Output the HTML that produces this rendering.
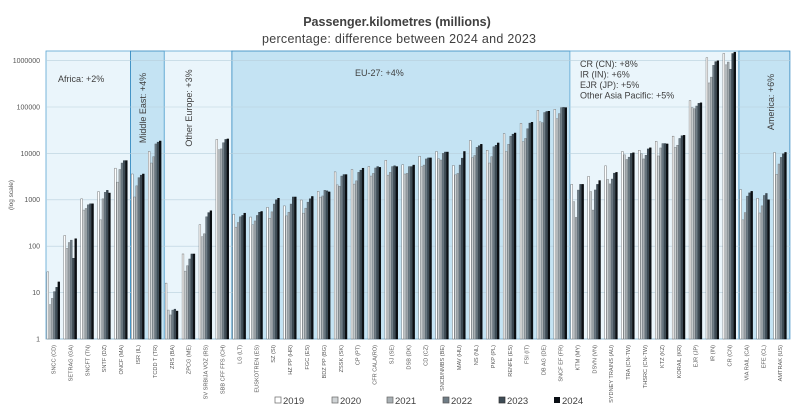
<!DOCTYPE html>
<html><head><meta charset="utf-8"><style>
body{margin:0;background:#fff;}
svg{display:block;font-family:"Liberation Sans",sans-serif;}
</style></head><body>
<svg id="s" width="800" height="409" viewBox="0 0 800 409" xmlns="http://www.w3.org/2000/svg">
<text x="397" y="26" text-anchor="middle" font-size="12.5" font-weight="bold" fill="#404040" font-family="Liberation Sans, sans-serif">Passenger.kilometres (millions)</text>
<text x="399" y="43" text-anchor="middle" font-size="12.5" fill="#404040" textLength="274">percentage: difference between 2024 and 2023</text>
<g id="reg">
<rect x="46" y="51" width="84.5" height="288" fill="#eaf5fb" stroke="#5aa5d3" stroke-width="0.8"/>
<rect x="130.5" y="51" width="33.8" height="288" fill="#c4e3f3" stroke="#2f86be" stroke-width="0.8"/>
<rect x="164.3" y="51" width="67.6" height="288" fill="#eaf5fb" stroke="#5aa5d3" stroke-width="0.8"/>
<rect x="231.9" y="51" width="338" height="288" fill="#c4e3f3" stroke="#2f86be" stroke-width="0.8"/>
<rect x="569.9" y="51" width="169" height="288" fill="#eaf5fb" stroke="#5aa5d3" stroke-width="0.8"/>
<rect x="738.9" y="51" width="51" height="288" fill="#c4e3f3" stroke="#2f86be" stroke-width="0.8"/>
</g>
<g id="grid" stroke="#b8cfdc" stroke-width="0.6"></g>
<g id="bars"></g>
<g font-size="7" fill="#555" text-anchor="end">
<text x="40" y="63">1000000</text><text x="40" y="109.4">100000</text><text x="40" y="155.8">10000</text><text x="40" y="202.2">1000</text><text x="40" y="248.6">100</text><text x="40" y="295">10</text><text x="40" y="341.4">1</text>
</g>
<text transform="translate(13,195) rotate(-90)" font-size="6.5" fill="#555" text-anchor="middle">(log scale)</text>
<g font-size="9" fill="#404040">
<text x="58" y="82">Africa: +2%</text>
<text transform="translate(146,108) rotate(-90)" text-anchor="middle">Middle East: +4%</text>
<text transform="translate(192,108) rotate(-90)" text-anchor="middle">Other Europe: +3%</text>
<text x="355" y="76">EU-27: +4%</text>
<text x="580" y="67">CR (CN): +8%</text>
<text x="580" y="77.5">IR (IN): +6%</text>
<text x="580" y="88">EJR (JP): +5%</text>
<text x="580" y="98.5">Other Asia Pacific: +5%</text>
<text transform="translate(774,102) rotate(-90)" text-anchor="middle">America: +6%</text>
</g>
<g font-size="5.6" fill="#555" text-anchor="end">
<text transform="translate(55.5,345) rotate(-90)">SNCC (CD)</text>
<text transform="translate(72.4,345) rotate(-90)">SETRAG (GA)</text>
<text transform="translate(89.3,345) rotate(-90)">SNCFT (TN)</text>
<text transform="translate(106.2,345) rotate(-90)">SNTF (DZ)</text>
<text transform="translate(123.1,345) rotate(-90)">ONCF (MA)</text>
<text transform="translate(140,345) rotate(-90)">ISR (IL)</text>
<text transform="translate(156.9,345) rotate(-90)">TCDD T (TR)</text>
<text transform="translate(173.8,345) rotate(-90)">ZRS (BA)</text>
<text transform="translate(190.7,345) rotate(-90)">ZPCG (ME)</text>
<text transform="translate(207.6,345) rotate(-90)">SV SRBIJA VOZ (RS)</text>
<text transform="translate(224.5,345) rotate(-90)">SBB CFF FFS (CH)</text>
<text transform="translate(241.4,345) rotate(-90)">LG (LT)</text>
<text transform="translate(258.3,345) rotate(-90)">EUSKOTREN (ES)</text>
<text transform="translate(275.2,345) rotate(-90)">SZ (SI)</text>
<text transform="translate(292.1,345) rotate(-90)">HZ PP (HR)</text>
<text transform="translate(309,345) rotate(-90)">FGC (ES)</text>
<text transform="translate(325.9,345) rotate(-90)">BDZ PP (BG)</text>
<text transform="translate(342.8,345) rotate(-90)">ZSSK (SK)</text>
<text transform="translate(359.7,345) rotate(-90)">CP (PT)</text>
<text transform="translate(376.6,345) rotate(-90)">CFR CALA(RO)</text>
<text transform="translate(393.5,345) rotate(-90)">SJ (SE)</text>
<text transform="translate(410.4,345) rotate(-90)">DSB (DK)</text>
<text transform="translate(427.3,345) rotate(-90)">CD (CZ)</text>
<text transform="translate(444.2,345) rotate(-90)">SNCB/NMBS (BE)</text>
<text transform="translate(461.1,345) rotate(-90)">MAV (HU)</text>
<text transform="translate(478,345) rotate(-90)">NS (NL)</text>
<text transform="translate(494.9,345) rotate(-90)">PKP (PL)</text>
<text transform="translate(511.8,345) rotate(-90)">RENFE (ES)</text>
<text transform="translate(528.7,345) rotate(-90)">FSI (IT)</text>
<text transform="translate(545.6,345) rotate(-90)">DB AG (DE)</text>
<text transform="translate(562.5,345) rotate(-90)">SNCF EF (FR)</text>
<text transform="translate(579.4,345) rotate(-90)">KTM (MY)</text>
<text transform="translate(596.3,345) rotate(-90)">DSVN (VN)</text>
<text transform="translate(613.2,345) rotate(-90)">SYDNEY TRAINS (AU)</text>
<text transform="translate(630.1,345) rotate(-90)">TRA (CN-TW)</text>
<text transform="translate(647,345) rotate(-90)">THSRC (CN-TW)</text>
<text transform="translate(663.9,345) rotate(-90)">KTZ (KZ)</text>
<text transform="translate(680.8,345) rotate(-90)">KORAIL (KR)</text>
<text transform="translate(697.7,345) rotate(-90)">EJR (JP)</text>
<text transform="translate(714.6,345) rotate(-90)">IR (IN)</text>
<text transform="translate(731.5,345) rotate(-90)">CR (CN)</text>
<text transform="translate(748.4,345) rotate(-90)">VIA RAIL (CA)</text>
<text transform="translate(765.3,345) rotate(-90)">EFE (CL)</text>
<text transform="translate(782.2,345) rotate(-90)">AMTRAK (US)</text>
</g>
<g font-size="9.5" fill="#404040">
<rect x="275" y="397" width="6" height="6" fill="#fff" stroke="#666" stroke-width="0.7"/><text x="283" y="404">2019</text>
<rect x="332" y="397" width="6" height="6" fill="#d0d4d6" stroke="#666" stroke-width="0.7"/><text x="340" y="404">2020</text>
<rect x="387" y="397" width="6" height="6" fill="#a9b0b4" stroke="#666" stroke-width="0.7"/><text x="395" y="404">2021</text>
<rect x="443" y="397" width="6" height="6" fill="#6f7d86" stroke="#555" stroke-width="0.7"/><text x="451" y="404">2022</text>
<rect x="499" y="397" width="6" height="6" fill="#3e4c56" stroke="#333" stroke-width="0.7"/><text x="507" y="404">2023</text>
<rect x="554" y="397" width="6" height="6" fill="#0a0f14"/><text x="562" y="404">2024</text>
</g>
</svg>
<script>
var D=[[28,5.5,7.5,10.5,13,17],[170,90,120,135,55,145],[1050,600,650,780,820,820],[1500,370,1050,1450,1600,1400],[4800,2400,4500,6200,7000,7000],[3600,1150,2000,3000,3400,3600],[11000,6200,8500,16000,17500,18500],[16,4.2,3.3,4.2,4.4,4.0],[68,29,38,53,68,68],[290,160,185,430,530,580],[20000,12000,12500,17000,20000,20500],
[490,257,324,430,460,515],[425,290,350,460,540,560],[690,400,550,810,1000,1080],[740,450,540,810,1150,1150],[990,515,660,890,1050,1180],[1520,1140,1210,1600,1560,1480],[4000,2100,1950,3250,3500,3500],[4500,2180,2560,3900,4350,4800],[5200,3250,3700,4850,5200,5000],[7100,3400,3900,5200,5400,5200],[5700,3600,3700,5200,5200,5600],[8700,5200,5600,7600,8000,8000],[11000,7700,7200,10000,10700,10700],[5500,3450,3700,5600,7900,11000],[19000,8100,9000,13500,14600,15700],[11700,6200,8500,13900,15000,16800],[26700,11000,15700,23500,26000,27500],[44500,18000,21000,34000,45000,46800],[85000,48000,46000,76000,80000,81000],[89000,56000,72000,97000,98000,97000],
[2150,910,417,1620,2150,2150],[3200,1500,600,1630,2150,2600],[5400,2750,2200,2800,3750,3900],[11000,9300,7400,8300,10000,10300],[11700,9800,7600,9100,12500,13200],[18200,8800,13100,16300,16300,16000],[23500,13500,15000,21000,24000,24500],[137000,97000,92000,105000,120000,123000],[1150000,330000,440000,790000,950000,990000],[1420000,810000,930000,650000,1420000,1520000],
[1660,370,530,1200,1410,1520],[1080,520,740,1240,1370,1000],[10500,3550,5900,8200,9800,10500]];
var C=["#ffffff","#d0d4d6","#a9b0b4","#6f7d86","#3e4c56","#0a0f14"],S=["#6b6b6b","#7a8085","#6f777c","#4d5a63","#2c3942","#000"];
var ns="http://www.w3.org/2000/svg",g=document.getElementById("bars"),gr=document.getElementById("grid");
for(var k=0;k<=6;k++){var l=document.createElementNS(ns,"line");var y=339-46.4*k;l.setAttribute("x1",46);l.setAttribute("x2",790);l.setAttribute("y1",y);l.setAttribute("y2",y);gr.appendChild(l);}
for(var i=0;i<D.length;i++)for(var j=0;j<6;j++){var v=D[i][j],y=339-46.4*Math.log10(v),r=document.createElementNS(ns,"rect");
r.setAttribute("x",(46+16.9*i+0.9+j*2.2).toFixed(2));r.setAttribute("y",y.toFixed(2));r.setAttribute("width",1.8);r.setAttribute("height",(339-y).toFixed(2));
r.setAttribute("fill",C[j]);r.setAttribute("stroke",S[j]);r.setAttribute("stroke-width",0.45);g.appendChild(r);}
</script>
</body></html>
